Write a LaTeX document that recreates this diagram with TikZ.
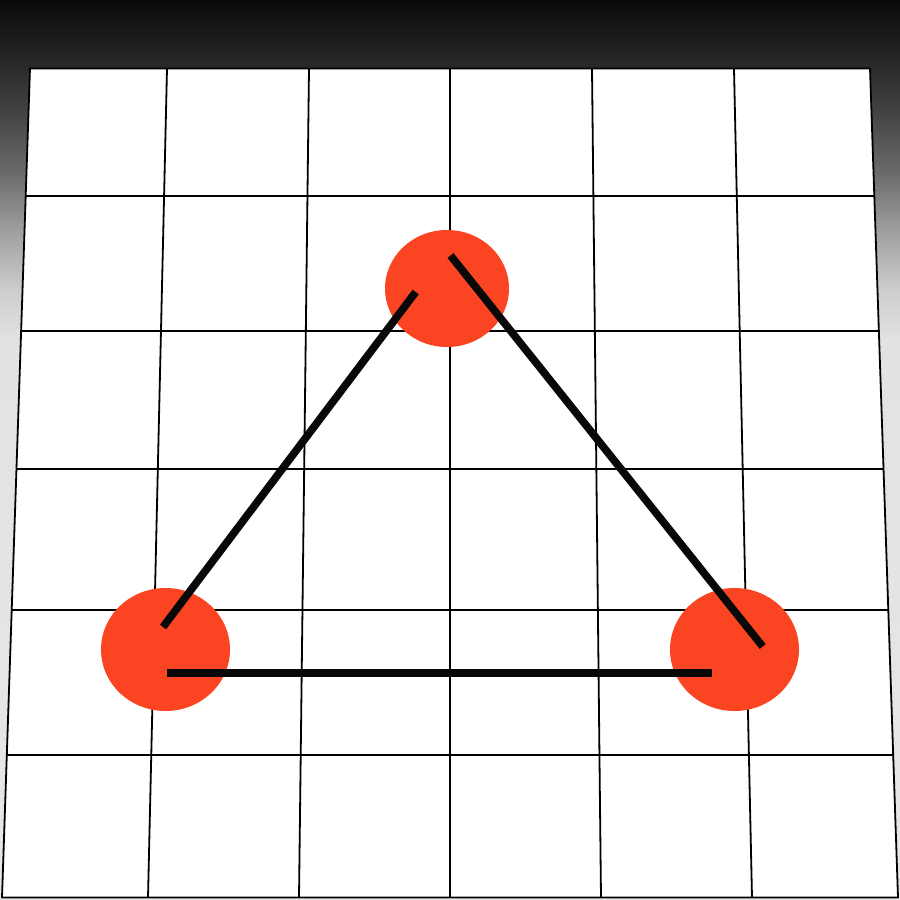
\documentclass[tikz,border=0pt]{standalone}
\usetikzlibrary{shapes.geometric,calc}
\definecolor{dotred}{HTML}{FB4522}
\definecolor{g0}{HTML}{0A0A0A}
\definecolor{g1}{HTML}{2A2A2A}
\definecolor{g2}{HTML}{464646}
\definecolor{g3}{HTML}{6C6C6C}
\definecolor{g4}{HTML}{9E9E9E}
\definecolor{g5}{HTML}{CDCDCD}
\definecolor{g6}{HTML}{E2E2E2}
\definecolor{g7}{HTML}{E7E7E7}
\tikzset{
  gridline/.style={line width=1.8pt, black},
  edgeline/.style={line width=7.7pt, black!97, line cap=butt},
  dotnode/.style={ellipse, fill=dotred, draw=none, inner sep=0pt},
}
\begin{document}
\begin{tikzpicture}[x=1pt,y=-1pt]
\useasboundingbox (0,0) rectangle (900,900);
% background gradient
\shade[top color=g6, bottom color=g7] (0,339) rectangle (900,900);
\shade[top color=g5, bottom color=g6] (0,289) rectangle (900,340);
\shade[top color=g4, bottom color=g5] (0,229) rectangle (900,290);
\shade[top color=g3, bottom color=g4] (0,174) rectangle (900,230);
\shade[top color=g2, bottom color=g3] (0,116) rectangle (900,175);
\shade[top color=g1, bottom color=g2] (0,67) rectangle (900,117);
\shade[top color=g0, bottom color=g1] (0,0) rectangle (900,68);
% board
\coordinate (TL) at (30,68.5);
\coordinate (TR) at (870,68.5);
\coordinate (BR) at (898,897.5);
\coordinate (BL) at (2,897.5);
\fill[white] (TL) -- (TR) -- (BR) -- (BL) -- cycle;
\foreach \t/\b in {167/148, 309/299, 450/450, 592/601, 734/752}
  \draw[gridline] (\t,68.5) -- (\b,897.5);
\foreach \y [evaluate=\y as \f using (\y-68.5)/829] in {196,331,469,610,755}
  \draw[gridline] ($(TL)!\f!(BL)$) -- ($(TR)!\f!(BR)$);
\draw[gridline, line join=miter] (TL) -- (TR) -- (BR) -- (BL) -- cycle;
% dots
\node[dotnode, minimum width=124pt, minimum height=117pt] (top) at (447,288.5) {};
\node[dotnode, minimum width=129pt, minimum height=123pt] (left) at (165.5,649.5) {};
\node[dotnode, minimum width=129pt, minimum height=123pt] (right) at (734.5,649.5) {};
% edges
\coordinate (l1) at (163,627);
\coordinate (l2) at (415.7,292);
\coordinate (r1) at (450.5,255.5);
\coordinate (r2) at (762.7,646.5);
\coordinate (b1) at (167,673);
\coordinate (b2) at (711.5,673);
\draw[edgeline] (l1) -- (l2);
\draw[edgeline] (r1) -- (r2);
\draw[edgeline] (b1) -- (b2);
\end{tikzpicture}
\end{document}
